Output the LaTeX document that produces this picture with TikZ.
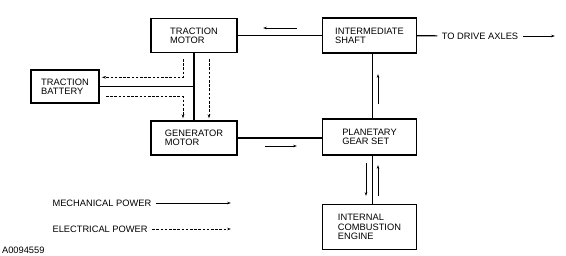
\documentclass[tikz,border=0pt]{standalone}
\usepackage{fontspec}
\setmainfont{Liberation Sans}
\usetikzlibrary{arrows.meta}

\begin{document}
\begin{tikzpicture}[x=1pt,y=-1pt,>={Stealth[length=4pt,width=2.6pt]},line width=1.1pt,
    font=\fontsize{9.3}{9.3}\selectfont,
    unit/.style 2 args={draw,rectangle,align=left,inner sep=0pt,minimum width=#1pt,minimum height=#2pt},
    elec/.style={line width=0.9pt,dash pattern=on 2.6pt off 1.6pt},
    flow/.style={->,line width=0.8pt}]
      \useasboundingbox (0,0) rectangle (566,255);
      \node[unit={86}{34}] (tm) at (194,35.5) {TRACTION\\MOTOR};
      \node[unit={68}{33}] (tb) at (65,86.5) {TRACTION\\BATTERY};
      \node[unit={86}{34}] (gm) at (194,138) {GENERATOR\\MOTOR};
      \node[unit={94}{35}] (is) at (369.5,35.5) {INTERMEDIATE\\SHAFT};
      \node[unit={94}{36}] (pgs) at (369.5,137) {PLANETARY\\GEAR SET};
      \node[unit={94}{45}] (ice) at (369.5,227) {INTERNAL\\COMBUSTION\\ENGINE};
      \node[inner xsep=4pt] (axles) at (480,36) {TO DRIVE AXLES};
      \coordinate (out) at (555,36);
      % shafts
      \draw (tm) -- (is);
      \draw (tm) -- (gm);
      \draw (tb) -- (tb -| tm.south);
      \draw (gm.east) -- (gm.east -| pgs.west);
      \coordinate (s1) at ([xshift=3pt]is.south);
      \coordinate (s2) at ([xshift=3pt]pgs.south);
      \draw (s1) -- (s1 |- pgs.north);
      \draw (s2) -- (s2 |- ice.north);
      \draw (is) -- (axles);
      \draw[flow] (axles) -- (out);
      % electrical power
      \coordinate (e1) at (183,59);   \coordinate (e1t) at (102,77.3);
      \coordinate (e2) at (106,96.7); \coordinate (e2t) at (183,118.3);
      \coordinate (e3) at (209,59);   \coordinate (e3t) at (209,118.3);
      \draw[elec,->] (e1) |- (e1t);
      \draw[elec,->] (e2) -| (e2t);
      \draw[elec,->] (e3) -- (e3t);
      % mechanical power
      \coordinate (m1) at (297,28);  \coordinate (m1t) at (263,28);
      \coordinate (m2) at (265,146); \coordinate (m2t) at (297,146);
      \coordinate (m3) at (378,104); \coordinate (m3t) at (378,74);
      \coordinate (m4) at (366,163); \coordinate (m4t) at (366,196);
      \coordinate (m5) at (378,196); \coordinate (m5t) at (378,165);
      \path[flow] (m1) edge (m1t) (m2) edge (m2t) (m3) edge (m3t)
        (m4) edge (m4t) (m5) edge (m5t);
      % legend
      \node[anchor=west,inner xsep=4pt] (mech) at (48,203) {MECHANICAL POWER};
      \node[anchor=west,inner xsep=4pt] (el) at (48,229) {ELECTRICAL POWER};
      \coordinate (mechend) at (231,203);
      \coordinate (elend) at (231,229);
      \draw[flow] (mech) -- (mechend);
      \draw[flow,elec] (el) -- (elend);
      \node[anchor=base west,inner sep=0pt] (fig) at (1.5,253) {A0094559};
    \end{tikzpicture}
\end{document}
